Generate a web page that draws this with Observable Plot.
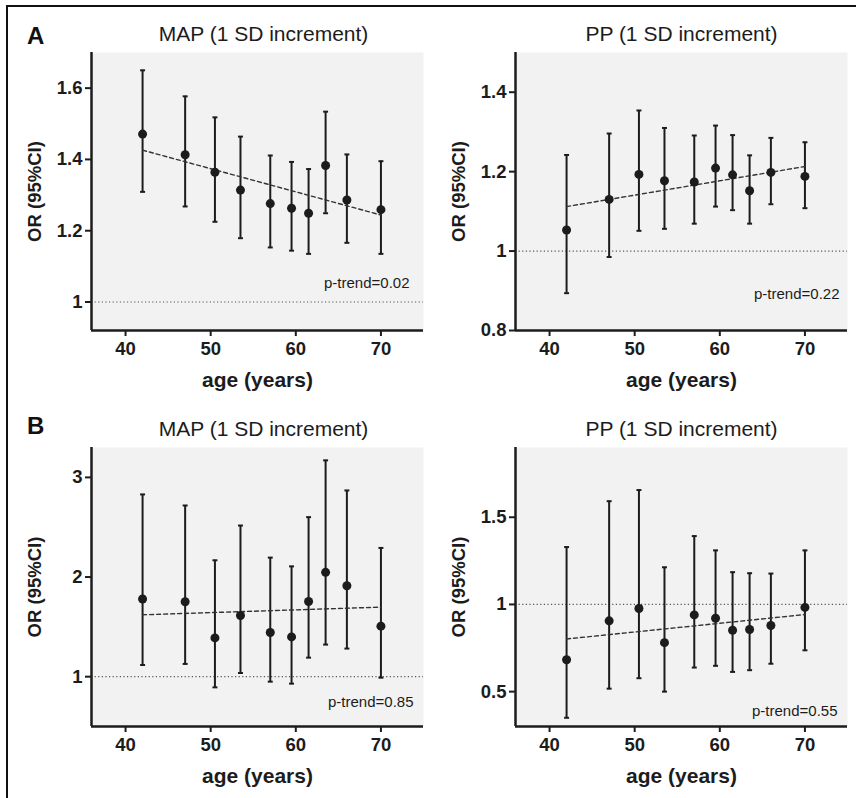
<!DOCTYPE html>
<html><head><meta charset="utf-8">
<script src="https://cdn.jsdelivr.net/npm/d3@7"></script>
<script src="https://cdn.jsdelivr.net/npm/@observablehq/plot@0.6"></script>
<style>
body{margin:0;background:#fff;font-family:"Liberation Sans",Arial,Helvetica,sans-serif;}
#fig{position:relative;width:856px;height:798px;overflow:hidden;background:#fff;}
#frame{position:absolute;left:6px;top:5px;width:900px;height:900px;border-left:2.5px solid #111;border-top:2.5px solid #111;}
.panel{position:absolute;}
.letter{position:absolute;font-weight:bold;font-size:24px;line-height:1;color:#111;}
</style></head><body>
<div id="fig"><div id="frame"></div></div>
<script>
// ---- data ----
const ages = [42, 47, 50.5, 53.5, 57, 59.5, 61.5, 63.5, 66, 70];
const trendAges = [42, 70];
const xTicks = [40, 50, 60, 70];
const xDomain = [36, 75];
const refValue = [1];

const mapA_or = [1.471, 1.413, 1.364, 1.314, 1.276, 1.263, 1.249, 1.383, 1.286, 1.259];
const mapA_lo = [1.309, 1.268, 1.225, 1.179, 1.153, 1.144, 1.135, 1.249, 1.166, 1.135];
const mapA_hi = [1.650, 1.577, 1.518, 1.464, 1.411, 1.393, 1.373, 1.534, 1.414, 1.395];
const mapA_trend = [1.426, 1.244];
const mapA_ticks = [1, 1.2, 1.4, 1.6];

const ppA_or = [1.053, 1.130, 1.193, 1.177, 1.174, 1.209, 1.192, 1.152, 1.198, 1.188];
const ppA_lo = [0.894, 0.985, 1.051, 1.056, 1.069, 1.112, 1.103, 1.069, 1.118, 1.108];
const ppA_hi = [1.242, 1.296, 1.354, 1.310, 1.291, 1.316, 1.292, 1.241, 1.285, 1.274];
const ppA_trend = [1.112, 1.213];
const ppA_ticks = [0.8, 1, 1.2, 1.4];

const mapB_or = [1.779, 1.752, 1.389, 1.614, 1.443, 1.399, 1.755, 2.047, 1.913, 1.507];
const mapB_lo = [1.117, 1.128, 0.893, 1.037, 0.950, 0.930, 1.191, 1.322, 1.282, 0.990];
const mapB_hi = [2.829, 2.718, 2.168, 2.517, 2.195, 2.107, 2.601, 3.171, 2.869, 2.292];
const mapB_trend = [1.621, 1.698];
const mapB_ticks = [1, 2, 3];

const ppB_or = [0.683, 0.906, 0.977, 0.781, 0.940, 0.921, 0.852, 0.856, 0.879, 0.983];
const ppB_lo = [0.350, 0.517, 0.577, 0.500, 0.638, 0.648, 0.613, 0.623, 0.660, 0.737];
const ppB_hi = [1.329, 1.592, 1.656, 1.213, 1.392, 1.310, 1.185, 1.179, 1.177, 1.310];
const ppB_trend = [0.802, 0.942];
const ppB_ticks = [0.5, 1, 1.5];

const titles = ["MAP (1 SD increment)", "PP (1 SD increment)"];
const pTrends = ["p-trend=0.02", "p-trend=0.22", "p-trend=0.85", "p-trend=0.55"];
const letters = ["A", "B"];
const xLabel = "age (years)";
const yLabel = "OR (95%CI)";

// ---- layout ----
const ink = "#1c1c1c";
const font = '"Liberation Sans", Arial, Helvetica, sans-serif';
const panels = [
  {left:0, top:0, w:428, h:398, ml:91, mr:5, mt:52, mb:68, title:titles[0], tdx:6, or:mapA_or, lo:mapA_lo, hi:mapA_hi, trend:mapA_trend, yDomain:[0.92,1.7], yTicks:mapA_ticks, p:pTrends[0], pdx:14, pdy:43},
  {left:428, top:0, w:428, h:398, ml:87, mr:9, mt:52, mb:68, title:titles[1], tdx:0, or:ppA_or, lo:ppA_lo, hi:ppA_hi, trend:ppA_trend, yDomain:[0.8,1.5], yTicks:ppA_ticks, p:pTrends[1], pdx:8, pdy:32},
  {left:0, top:398, w:428, h:400, ml:91, mr:5, mt:49, mb:72, title:titles[0], tdx:6, or:mapB_or, lo:mapB_lo, hi:mapB_hi, trend:mapB_trend, yDomain:[0.5,3.3], yTicks:mapB_ticks, p:pTrends[2], pdx:10, pdy:20},
  {left:428, top:398, w:428, h:400, ml:87, mr:9, mt:49, mb:72, title:titles[1], tdx:0, or:ppB_or, lo:ppB_lo, hi:ppB_hi, trend:ppB_trend, yDomain:[0.3,1.9], yTicks:ppB_ticks, p:pTrends[3], pdx:10, pdy:11}
];

const capSymbol = {draw(ctx, size){ const r = Math.sqrt(size) / 2; ctx.moveTo(-r, 0); ctx.lineTo(r, 0); }};

const fig = document.getElementById("fig");
for (const p of panels) {
  const data = ages.map((a, i) => ({age: a, or: p.or[i], lo: p.lo[i], hi: p.hi[i]}));
  const trend = trendAges.map((a, i) => ({age: a, v: p.trend[i]}));
  const chart = Plot.plot({
    width: p.w, height: p.h,
    marginLeft: p.ml, marginRight: p.mr, marginTop: p.mt, marginBottom: p.mb,
    style: {fontFamily: font, fontSize: "19px", fontWeight: "bold", color: ink, background: "transparent", overflow: "visible"},
    x: {domain: xDomain},
    y: {domain: p.yDomain},
    marks: [
      Plot.frame({fill: "#f2f2f2", stroke: "none"}),
      Plot.ruleY(refValue, {stroke: "#555", strokeWidth: 1.2, strokeDasharray: "1.2,2.4"}),
      Plot.ruleX(data, {x: "age", y1: "lo", y2: "hi", stroke: ink, strokeWidth: 2}),
      Plot.dot(data, {x: "age", y: "hi", symbol: capSymbol, r: 2.8, stroke: ink, strokeWidth: 2, fill: "none"}),
      Plot.dot(data, {x: "age", y: "lo", symbol: capSymbol, r: 2.8, stroke: ink, strokeWidth: 2, fill: "none"}),
      Plot.line(trend, {x: "age", y: "v", stroke: "#333", strokeWidth: 1.4, strokeDasharray: "4,3"}),
      Plot.dot(data, {x: "age", y: "or", r: 4.5, fill: ink, stroke: "none"}),
      Plot.ruleX([xDomain[0]], {stroke: ink, strokeWidth: 2.5}),
      Plot.ruleY([p.yDomain[0]], {stroke: ink, strokeWidth: 2.5}),
      Plot.axisX({ticks: xTicks, tickSize: 6, tickPadding: 5, strokeWidth: 2, fontSize: 18.5, label: null}),
      Plot.axisX({ticks: [], fontSize: 21, label: xLabel, labelAnchor: "center", labelArrow: "none", labelOffset: 56}),
      Plot.axisY({ticks: p.yTicks, tickFormat: d => String(d), tickSize: 6, tickPadding: 3, strokeWidth: 2, fontSize: 18.5, label: yLabel, labelAnchor: "center", labelArrow: "none", labelOffset: 64}),
      Plot.text([p.title], {text: d => d, frameAnchor: "top", dx: p.tdx, dy: -12, lineAnchor: "bottom", fontSize: 21, fontWeight: "normal", fill: ink}),
      Plot.text([p.p], {text: d => d, frameAnchor: "bottom-right", dx: -p.pdx, dy: -p.pdy, lineAnchor: "bottom", textAnchor: "end", fontSize: 15, fontWeight: "normal", fill: ink})
    ]
  });
  const div = document.createElement("div");
  div.className = "panel";
  div.style.left = p.left + "px";
  div.style.top = p.top + "px";
  div.appendChild(chart);
  fig.appendChild(div);
}
letters.forEach((l, i) => {
  const d = document.createElement("div");
  d.className = "letter";
  d.textContent = l;
  d.style.left = "27px";
  d.style.top = (i === 0 ? 24 : 414) + "px";
  fig.appendChild(d);
});
</script>
</body></html>
